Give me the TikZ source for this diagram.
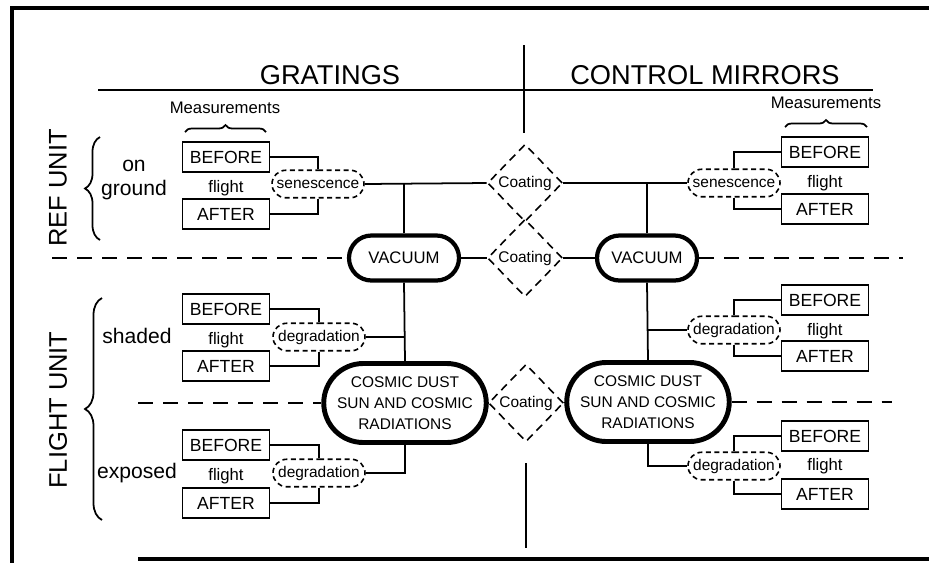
\documentclass[tikz,border=0pt]{standalone}
\usepackage{fontspec}
\setmainfont{Liberation Sans}
\usetikzlibrary{positioning, shapes.geometric, shapes.misc, decorations.pathreplacing}

\tikzset{
    measbox/.style={draw, line width=1pt, minimum width=1.74cm, minimum height=0.6cm, inner sep=0pt, font=\fontsize{10}{12}\selectfont},
    agebox/.style={draw, dashed, dash pattern=on 1mm off 0.7mm, line width=0.9pt, rounded rectangle, minimum width=1.84cm, minimum height=0.55cm, inner sep=0pt, font=\fontsize{8.8}{10}\selectfont},
    coatbox/.style={draw, dash pattern=on 1.6mm off 1.1mm, line width=0.9pt, diamond, minimum width=1.5cm, minimum height=1.55cm, inner sep=0pt, font=\fontsize{8.8}{10}\selectfont},
    envbox/.style={draw, rounded rectangle, inner sep=0pt, align=center},
    smalltext/.style={font=\fontsize{9.5}{11}\selectfont},
    sidetext/.style={font=\fontsize{12}{14}\selectfont, align=center},
    bigtext/.style={font=\fontsize{15.5}{18}\selectfont},
    unittext/.style={font=\fontsize{14.5}{16}\selectfont, rotate=90},
    longdash/.style={dash pattern=on 3mm off 2mm, line width=1pt},
}

\begin{document}
\begin{tikzpicture}[x=0.2mm, y=-0.2mm, line width=1pt]
    \useasboundingbox (0,0) rectangle (929,563);

    % Outer frame (cut off on the right)
    \draw[line width=2.2pt] (929,8) -- (12,8) -- (12,563);
    \draw[line width=2.2pt] (138,559) -- (929,559);

    % Column headings and rules
    \node[bigtext] (gratings) at (330,75) {GRATINGS};
    \node[bigtext] (mirrors) at (705,75) {CONTROL MIRRORS};
    \draw (98,90) -- (873,90);
    \draw (524,45) -- (524,133);
    \draw (526,463) -- (526,548);

    % Row headings with braces
    \node[unittext] (refunit) at (58,188) {REF UNIT};
    \node[unittext] (flightunit) at (58,410) {FLIGHT UNIT};
    \draw[decorate, decoration={brace, amplitude=3mm}] (100,240) -- (100,137);
    \draw[decorate, decoration={brace, amplitude=3.4mm}] (102,520) -- (102,298);
    \node[sidetext] (onground) at (134,180) {on\\ground};
    \node[sidetext] (shaded) at (137,336) {shaded};
    \node[sidetext] (exposed) at (137,473) {exposed};

    % Measurements labels
    \node[smalltext] (measL) at (225,108) {Measurements};
    \node[smalltext] (measR) at (826,103) {Measurements};
    \draw[decorate, decoration={brace, amplitude=1.4mm}] (185,132) -- (266,132);
    \draw[decorate, decoration={brace, amplitude=1.4mm}] (785,127) -- (867,127);

    % Gratings: reference unit
    \node[measbox] (grbefore) at (226,157) {BEFORE};
    \node[measbox] (grafter) at (226,214) {AFTER};
    \node[smalltext] (grflight) at (226,188) {flight};
    \node[agebox] (grsen) at (318,184) {senescence};

    % Gratings: flight unit
    \node[measbox] (gsbefore) at (226,309) {BEFORE};
    \node[measbox] (gsafter) at (226,366) {AFTER};
    \node[smalltext] (gsflight) at (226,340) {flight};
    \node[agebox] (gsdeg) at (319,337) {degradation};
    \node[measbox] (gebefore) at (226,445) {BEFORE};
    \node[measbox] (geafter) at (226,503) {AFTER};
    \node[smalltext] (geflight) at (226,476) {flight};
    \node[agebox] (gedeg) at (319,473) {degradation};

    % Control mirrors: reference unit
    \node[measbox] (mrbefore) at (825,152) {BEFORE};
    \node[measbox] (mrafter) at (825,209) {AFTER};
    \node[smalltext] (mrflight) at (825,183) {flight};
    \node[agebox] (mrsen) at (734,183) {senescence};

    % Control mirrors: flight unit
    \node[measbox] (msbefore) at (825,300) {BEFORE};
    \node[measbox] (msafter) at (825,356) {AFTER};
    \node[smalltext] (msflight) at (825,331) {flight};
    \node[agebox] (msdeg) at (734,330) {degradation};
    \node[measbox] (mebefore) at (825,436) {BEFORE};
    \node[measbox] (meafter) at (825,494) {AFTER};
    \node[smalltext] (meflight) at (825,466) {flight};
    \node[agebox] (medeg) at (734,466) {degradation};

    % Environments and coatings
    \node[envbox, line width=2.4pt, minimum width=2.2cm, minimum height=0.9cm, font=\fontsize{9.5}{11}\selectfont] (vacL) at (404,258) {VACUUM};
    \node[envbox, line width=2.4pt, minimum width=2.0cm, minimum height=0.9cm, font=\fontsize{9.5}{11}\selectfont] (vacR) at (647,258) {VACUUM};
    \node[envbox, line width=2.8pt, minimum width=3.25cm, minimum height=1.58cm, font=\fontsize{8.8}{12}\selectfont] (cosL) at (405,403) {COSMIC DUST\\SUN AND COSMIC\\RADIATIONS};
    \node[envbox, line width=2.8pt, minimum width=3.25cm, minimum height=1.58cm, font=\fontsize{8.8}{12}\selectfont] (cosR) at (648,402) {COSMIC DUST\\SUN AND COSMIC\\RADIATIONS};
    \node[coatbox] (coat1) at (525,183) {Coating};
    \node[coatbox] (coat2) at (525,258) {Coating};
    \node[coatbox] (coat3) at (526,403) {Coating};

    % Connectors: reference unit
    \draw (grbefore.east) -| (grsen.north);
    \draw (grafter.east) -| (grsen.south);
    \draw (grsen.east) -- (coat1.west);
    \draw (coat1.east) -- (mrsen.west);
    \draw (mrbefore.west) -| (mrsen.north);
    \draw (mrafter.west) -| (mrsen.south);
    \draw (vacL.north) -- (vacL.north |- grsen.east);
    \draw (vacR.north) -- (vacR.north |- mrsen.west);

    % Connectors: vacuum row
    \draw (vacL.east) -- (coat2.west);
    \draw (coat2.east) -- (vacR.west);
    \coordinate (vacdashL) at (52,258);
    \coordinate (vacdashR) at (903,258);
    \draw[longdash] (vacdashL) -- (vacL.west);
    \draw[longdash] (vacR.east) -- (vacdashR);

    % Connectors: flight unit
    \draw (vacL.south) -- (cosL.north);
    \draw (vacR.south) -- (cosR.north);
    \draw (gsbefore.east) -| (gsdeg.north);
    \draw (gsafter.east) -| (gsdeg.south);
    \draw (gsdeg.east) -- (gsdeg.east -| cosL.north);
    \draw (gebefore.east) -| (gedeg.north);
    \draw (geafter.east) -| (gedeg.south);
    \draw (gedeg.east) -| (cosL.south);
    \draw (msbefore.west) -| (msdeg.north);
    \draw (msafter.west) -| (msdeg.south);
    \draw (msdeg.west) -- (msdeg.west -| cosR.north);
    \draw (mebefore.west) -| (medeg.north);
    \draw (meafter.west) -| (medeg.south);
    \draw (medeg.west) -| (cosR.south);
    \draw (cosL.east) -- (coat3.west);
    \draw (coat3.east) -- (cosR.west);
    \coordinate (cosdashL) at (138,403);
    \coordinate (cosdashR) at (892,402);
    \draw[longdash] (cosdashL) -- (cosL.west);
    \draw[longdash] (cosR.east) -- (cosdashR);
\end{tikzpicture}
\end{document}
